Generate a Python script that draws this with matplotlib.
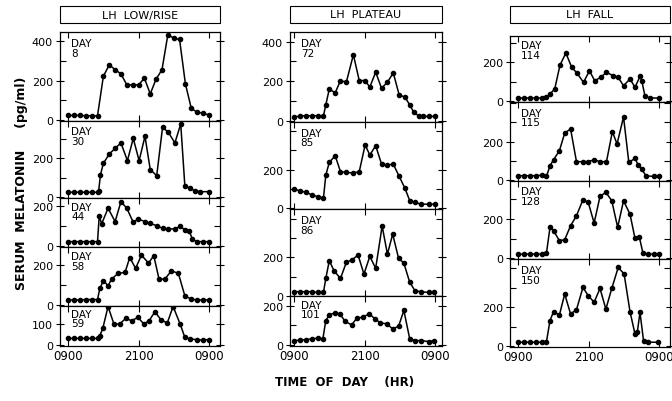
import matplotlib
matplotlib.use("Agg")
import matplotlib.pyplot as plt
from matplotlib.patches import Rectangle

W, H = 672, 402

# ---- data: hours after midnight of day start (9 = 0900, 33 = 0900 next day), pg/ml ----
day8_t = [9, 10, 11, 12, 13, 14, 15, 16, 17, 18, 19, 20, 21, 22, 23, 24, 25, 26, 27, 28, 29, 30, 31, 32, 33]
day8_v = [22, 22, 22, 20, 20, 20, 222, 280, 256, 234, 178, 178, 178, 212, 132, 208, 255, 434, 417, 410, 183, 58, 38, 34, 24]

day30_t = [9, 10, 11, 12, 13, 14, 14.2, 14.5, 15, 16, 17, 18, 19.1, 20.1, 21.1, 22.1, 23, 24.1, 25.1, 26.1, 27.2, 28.2, 28.9, 29.8, 30.6, 31.5, 33]
day30_v = [26, 26, 26, 26, 26, 26, 34, 115, 174, 222, 251, 279, 188, 302, 188, 313, 142, 111, 359, 333, 279, 376, 60, 46, 34, 29, 29]

day44_t = [9, 10, 11, 12, 13, 14, 14.3, 14.7, 15.8, 17, 18, 19, 20.1, 20.9, 22.1, 23, 24.1, 25.1, 26.1, 27.2, 28.1, 28.9, 29.6, 30.2, 30.9, 32, 33]
day44_v = [22, 22, 22, 22, 22, 22, 153, 111, 190, 123, 223, 190, 119, 136, 123, 114, 102, 89, 86, 86, 99, 81, 77, 35, 22, 22, 22]

day58_t = [9, 10, 11, 12, 13, 14, 14.4, 15, 15.8, 16.4, 17.5, 18.7, 19.5, 20.5, 21.5, 22.7, 23.6, 24.5, 25.5, 26.6, 27.8, 28.9, 29.9, 30.9, 32, 33]
day58_v = [24, 24, 24, 26, 26, 26, 82, 121, 96, 129, 158, 163, 238, 183, 250, 210, 247, 129, 129, 171, 158, 45, 29, 24, 24, 24]

day59_t = [9, 10, 11, 12, 13, 14, 14.4, 14.9, 15.8, 16.8, 17.8, 18.8, 19.8, 20.9, 21.9, 22.8, 23.8, 24.8, 25.9, 26.9, 28.1, 28.9, 29.8, 30.9, 32, 33]
day59_v = [32, 32, 32, 32, 32, 32, 45, 80, 185, 101, 101, 128, 117, 133, 101, 117, 160, 122, 106, 185, 101, 37, 29, 26, 24, 26]

day72_t = [9, 10, 11, 12, 13, 14, 14.4, 15, 16, 16.9, 17.9, 19.1, 20.1, 21.1, 21.9, 22.9, 23.9, 24.9, 25.9, 26.9, 27.9, 28.7, 29.4, 30.2, 31, 31.9, 33]
day72_v = [17, 25, 25, 25, 25, 25, 80, 161, 141, 203, 195, 334, 203, 203, 170, 246, 164, 195, 242, 131, 119, 80, 42, 25, 22, 22, 22]

day85_t = [9, 10, 11, 12, 13, 14, 14.4, 15, 16, 16.9, 17.9, 19.1, 20.1, 21.1, 21.9, 22.9, 23.9, 24.9, 25.9, 26.9, 27.9, 28.7, 29.6, 30.6, 31.9, 33]
day85_v = [100, 91, 83, 71, 60, 53, 172, 238, 272, 190, 186, 183, 190, 328, 276, 324, 229, 224, 229, 166, 103, 40, 31, 22, 22, 22]

day86_t = [9, 10, 11, 12, 13, 14, 14.4, 15, 15.8, 16.9, 17.9, 18.9, 19.9, 20.9, 21.9, 22.9, 24, 24.9, 25.8, 26.8, 27.7, 28.7, 29.6, 30.6, 31.9, 32.8]
day86_v = [21, 21, 21, 21, 17, 17, 90, 183, 130, 90, 174, 188, 212, 113, 205, 143, 363, 217, 321, 195, 170, 70, 26, 21, 17, 17]

day101_t = [9, 10, 11, 12, 13, 13.9, 14.4, 15, 16, 16.8, 17.7, 18.8, 19.7, 20.7, 21.8, 22.8, 23.7, 24.8, 25.8, 26.8, 27.7, 28.7, 29.6, 30.7, 31.9, 32.8]
day101_v = [22, 24, 27, 31, 34, 31, 124, 153, 163, 158, 119, 102, 136, 141, 158, 132, 112, 107, 81, 95, 175, 31, 22, 22, 17, 22]

day114_t = [9, 10, 11, 12, 13, 13.8, 14.4, 15.2, 16.1, 17.1, 18.1, 19, 20.1, 21.1, 22, 23, 24, 25.1, 26, 26.9, 28, 28.85, 29.7, 30, 30.55, 31.4, 33]
day114_v = [17, 17, 17, 17, 17, 21, 38, 63, 186, 248, 174, 145, 97, 157, 106, 123, 149, 132, 123, 80, 115, 72, 128, 106, 26, 17, 17]

day115_t = [9, 10, 11, 12, 13, 13.8, 14.4, 15, 16, 16.9, 17.9, 18.9, 20, 20.9, 21.9, 22.9, 24, 25, 25.8, 26.9, 27.8, 28.85, 29.4, 30, 30.7, 32, 33]
day115_v = [23, 23, 23, 23, 26, 19, 75, 106, 153, 245, 266, 96, 96, 96, 106, 96, 96, 252, 188, 329, 92, 113, 78, 57, 23, 19, 19]

day128_t = [9, 10, 11, 12, 13, 13.8, 14.4, 15, 16, 16.9, 17.9, 18.9, 20, 20.9, 21.9, 22.9, 23.9, 24.9, 25.9, 26.9, 28, 28.85, 29.6, 30.2, 31.1, 32, 33]
day128_v = [22, 22, 22, 22, 22, 27, 158, 141, 90, 95, 166, 217, 298, 285, 180, 315, 336, 293, 158, 293, 225, 102, 107, 27, 22, 22, 22]

day150_t = [9, 10, 11, 12, 13, 13.8, 14.4, 15, 16, 16.9, 17.9, 18.9, 20, 20.9, 21.9, 22.9, 23.9, 24.9, 26, 27, 28, 28.85, 29.25, 29.7, 30.3, 31.1, 32.8]
day150_v = [21, 21, 21, 21, 21, 24, 132, 178, 161, 268, 166, 188, 302, 260, 226, 297, 191, 297, 405, 371, 178, 63, 75, 174, 29, 21, 21]

column_titles = ["LH  LOW/RISE", "LH  PLATEAU", "LH  FALL"]
time_ticks = [9, 21, 33]
time_labels = ["0900", "2100", "0900"]

# column geometry in pixels: (left, right, xlim)
col1 = (60, 220, (7.6, 34.9))
col2 = (290, 442, (8.3, 34.2))
col3 = (510, 670, (7.6, 34.8))
# (day, t, v, column, top px, bottom px, ylim, labelled y ticks)
panels = [
    ("8", day8_t, day8_v, col1, 33, 121.7, (-5, 448), [0, 200, 400]),
    ("30", day30_t, day30_v, col1, 121.7, 199.3, (-5, 393), [0, 200]),
    ("44", day44_t, day44_v, col1, 199.3, 248, (-5, 240), [0, 200]),
    ("58", day58_t, day58_v, col1, 248, 306.7, (-5, 291), [0, 200]),
    ("59", day59_t, day59_v, col1, 306.7, 347.3, (-6, 189), [0, 100]),
    ("72", day72_t, day72_v, col2, 33, 122.7, (-5, 449), [0, 200, 400]),
    ("85", day85_t, day85_v, col2, 122.7, 210, (-3, 448), [0, 200]),
    ("86", day86_t, day86_v, col2, 210, 297.3, (-3, 452), [0, 200]),
    ("101", day101_t, day101_v, col2, 297.3, 347.3, (-7, 247), [0, 200]),
    ("114", day114_t, day114_v, col3, 36.7, 103.3, (-5, 337), [0, 200]),
    ("115", day115_t, day115_v, col3, 103.3, 181.7, (-3, 405), [0, 200]),
    ("128", day128_t, day128_v, col3, 181.7, 260, (-3, 395), [0, 200]),
    ("150", day150_t, day150_v, col3, 260, 348.3, (-5, 448), [0, 200]),
]
bottom_days = ["59", "101", "150"]

plt.rcParams["font.family"] = "DejaVu Sans"
fig = plt.figure(figsize=(W / 100, H / 100), dpi=100)


def rect(x0, x1, ytop, ybot):
    return [x0 / W, 1 - ybot / H, (x1 - x0) / W, (ybot - ytop) / H]


for day, t, v, col, ytop, ybot, ylim, ylab in panels:
    x0, x1, xlim = col
    ax = fig.add_axes(rect(x0, x1, ytop, ybot))
    ax.plot(t, v, color="black", lw=1.1, marker="o", ms=3.0)
    ax.set_xlim(xlim)
    ax.set_ylim(ylim)
    minor = [y for y in range(0, 500, 100) if y <= ylim[1] and y not in ylab]
    ax.set_yticks(ylab)
    ax.set_yticks(minor, minor=True)
    ax.set_xticks(time_ticks)
    ax.tick_params(axis="both", which="both", direction="in", top=True, right=True,
                   length=4, width=0.8, labelsize=8, pad=2)
    ax.tick_params(axis="y", which="major", direction="inout", length=6)
    if day in bottom_days:
        ax.set_xticklabels(time_labels)
        ax.tick_params(axis="x", labelsize=8.5)
    else:
        ax.set_xticklabels([])
    for s in ax.spines.values():
        s.set_linewidth(0.9)
    ax.text(0.07, 0.93, "DAY\n" + day, transform=ax.transAxes, ha="left", va="top",
            fontsize=7.5, linespacing=0.95)

# header boxes above each column
for (x0, x1, _), title in zip([col1, col2, col3], column_titles):
    fig.patches.append(Rectangle((x0 / W, 1 - 24 / H), (x1 - x0) / W, 17 / H,
                                 transform=fig.transFigure, fill=False, lw=0.8,
                                 edgecolor="black"))
    fig.text((x0 + x1) / 2 / W, 1 - 15.5 / H, title, ha="center", va="center", fontsize=8)

fig.text(22 / W, 1 - 183 / H, "SERUM  MELATONIN     (pg/ml)", rotation=90,
         ha="center", va="center", fontsize=9, fontweight="bold")
fig.text(345 / W, 1 - 383 / H, "TIME  OF  DAY    (HR)", ha="center", va="center",
         fontsize=8.5, fontweight="bold")

fig.savefig("out.png", dpi=100)
